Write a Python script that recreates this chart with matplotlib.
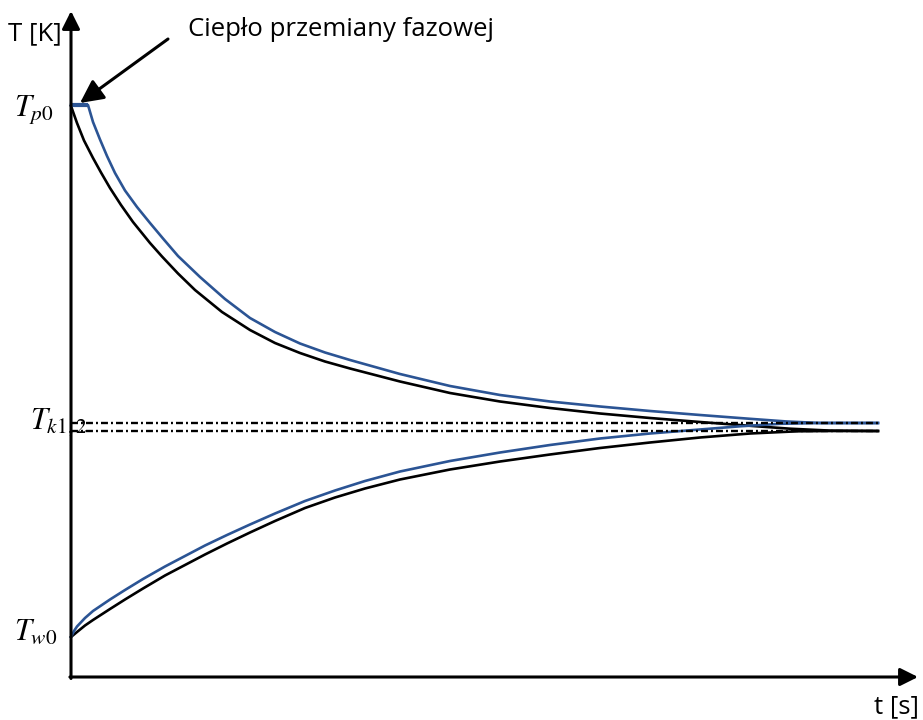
import matplotlib
matplotlib.use("Agg")
import matplotlib.pyplot as plt

plt.rcParams["mathtext.fontset"] = "stix"
plt.rcParams["lines.scale_dashes"] = False

# Characteristic temperatures [K]
T_p0 = 343.2
T_w0 = 290.0
T_k1 = 311.4
T_k2 = 310.6

# Hot body cooling: with phase-change plateau (blue) and without (black)
t_hot_pc = [0, 17, 22, 29, 36, 44, 54, 66, 79, 92, 107, 129, 154, 179, 204, 229,
            254, 279, 329, 379, 429, 479, 529, 579, 629, 679, 716, 749, 807]
T_hot_pc = [343.2, 343.2, 341.5, 339.75, 338.1, 336.4, 334.65, 333.0, 331.4, 329.85,
            328.1, 326.0, 323.8, 321.9, 320.5, 319.35, 318.45, 317.7, 316.3, 315.1,
            314.2, 313.55, 313.05, 312.6, 312.2, 311.82, 311.55, 311.4, 311.4]

t_hot = [0, 6, 13, 22, 30, 39, 50, 62, 79, 91, 107, 124, 151, 179, 204, 229, 254,
         279, 329, 379, 429, 479, 529, 579, 629, 679, 719, 759, 807]
T_hot = [343.1, 341.4, 339.65, 337.9, 336.45, 334.9, 333.2, 331.5, 329.4, 328.05,
         326.35, 324.7, 322.5, 320.7, 319.4, 318.4, 317.55, 316.85, 315.55, 314.4,
         313.55, 312.9, 312.35, 311.9, 311.5, 311.12, 310.83, 310.64, 310.6]

# Cold body heating: with phase change (blue) and without (black)
t_cold_pc = [0, 3, 6, 14, 22, 39, 54, 72, 94, 114, 134, 156, 179, 204, 234, 264,
             294, 329, 379, 429, 479, 529, 579, 629, 669, 709, 749, 807]
T_cold_pc = [290.0, 290.6, 291.05, 291.9, 292.6, 293.75, 294.7, 295.8, 297.05, 298.1,
             299.15, 300.2, 301.25, 302.35, 303.6, 304.65, 305.6, 306.55, 307.6,
             308.45, 309.2, 309.85, 310.35, 310.75, 311.07, 311.32, 311.4, 311.4]

t_cold = [0, 6, 14, 22, 39, 54, 72, 94, 114, 134, 156, 179, 204, 234, 264, 294,
          329, 379, 429, 479, 529, 579, 629, 679, 726, 759, 807]
T_cold = [290.0, 290.5, 291.15, 291.7, 292.8, 293.75, 294.85, 296.15, 297.2, 298.25,
          299.35, 300.45, 301.6, 302.9, 303.95, 304.85, 305.75, 306.75, 307.55,
          308.25, 308.9, 309.45, 309.95, 310.35, 310.57, 310.6, 310.6]

BLUE = "#2b5494"
TEXT_FONT = ["Open Sans", "DejaVu Sans"]

fig = plt.figure(figsize=(9.23, 7.2), dpi=100)
ax = fig.add_axes([0, 0, 1, 1])
ax.set_xlim(-71, 852)
ax.set_ylim(281.7, 353.7)
ax.axis("off")

t_end = 807
T_axis = 286.0

# Equilibrium temperature lines
dash = (0, (5.0, 2.2, 1.4, 2.2))
ax.plot([0, t_end], [T_k1, T_k1], color="black", lw=1.7, linestyle=dash, zorder=4)
ax.plot([0, t_end], [T_k2, T_k2], color="black", lw=1.7, linestyle=dash, zorder=4)

# Temperature curves
line_kw = dict(lw=1.9, zorder=3, solid_joinstyle="round")
ax.plot(t_hot, T_hot, color="black", **line_kw)
ax.plot(t_cold, T_cold, color="black", **line_kw)
ax.plot(t_hot_pc, T_hot_pc, color=BLUE, **line_kw)
ax.plot(t_cold_pc, T_cold_pc, color=BLUE, **line_kw)
ax.plot(t_hot_pc[:2], T_hot_pc[:2], color=BLUE, lw=3.0, zorder=3,
        solid_capstyle="butt")

# Coordinate axes with arrowheads
head = dict(arrowstyle="-|>,head_length=0.6,head_width=0.3", color="black",
            lw=2.2, shrinkA=0, shrinkB=0, mutation_scale=18)
ax.annotate("", xy=(0, 352.6), xytext=(0, T_axis - 0.15), arrowprops=head,
            zorder=5)
ax.annotate("", xy=(847, T_axis), xytext=(-1.1, T_axis), arrowprops=head,
            zorder=5)

# Axis titles
ax.text(-36, 350.3, "T [K]", fontsize=18.5, family=TEXT_FONT,
        ha="center", va="center")
ax.text(825, 283.0, "t [s]", fontsize=18.5, family=TEXT_FONT,
        ha="center", va="center")

# Temperature labels
ax.text(-37, 342.7, r"$T_{p0}$", fontsize=22, ha="center", va="center")
ax.text(-35, 290.5, r"$T_{w0}$", fontsize=22, ha="center", va="center")
ax.text(-41, 311.5, r"$T_{k1,2}$", fontsize=22, ha="left", va="center", zorder=2)

# Phase-change annotation
ax.text(117, 350.7, "Ciepło przemiany fazowej", fontsize=18.5,
        family=TEXT_FONT, ha="left", va="center")
ax.annotate("", xy=(9, 343.4), xytext=(97, 349.8),
            arrowprops=dict(arrowstyle="-|>,head_length=0.7,head_width=0.35",
                            color="black", lw=2.2, shrinkA=0, shrinkB=0,
                            mutation_scale=20))

fig.savefig("out.png", dpi=100)
